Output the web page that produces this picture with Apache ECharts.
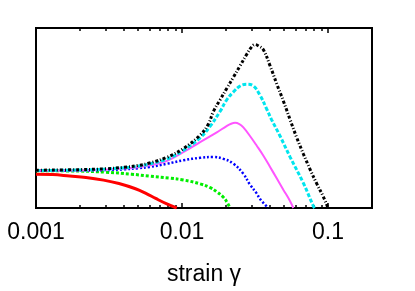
<!DOCTYPE html>
<html>
<head>
<meta charset="utf-8">
<script src="https://cdn.jsdelivr.net/npm/echarts@6/dist/echarts.min.js"></script>
<style>
html,body{margin:0;padding:0;background:#fff;}
#c{width:415px;height:291px;}
</style>
</head>
<body>
<div id="c"></div>
<script>
// x values (strain) and y values (arbitrary units) per curve
var redX = [0.001, 0.0013, 0.0017, 0.0022, 0.0029, 0.0037, 0.0048, 0.0057, 0.0066, 0.0078, 0.0092];
var redY = [0.188, 0.186, 0.178, 0.17, 0.155, 0.136, 0.107, 0.08, 0.053, 0.024, 0.0];

var greenX = [0.001, 0.002, 0.003, 0.0045, 0.006, 0.0082, 0.0102, 0.0133, 0.0156, 0.0173, 0.0192, 0.0204, 0.0213];
var greenY = [0.207, 0.205, 0.199, 0.188, 0.177, 0.166, 0.156, 0.134, 0.113, 0.09, 0.06, 0.03, 0.0];

var blueX = [0.001, 0.002, 0.003, 0.004, 0.005, 0.006, 0.0079, 0.0102, 0.0133, 0.0164, 0.0192, 0.0225, 0.0263, 0.0292, 0.0325, 0.0342, 0.039];
var blueY = [0.207, 0.208, 0.211, 0.215, 0.221, 0.228, 0.246, 0.265, 0.279, 0.283, 0.273, 0.246, 0.19, 0.13, 0.08, 0.05, 0.0];

var magentaX = [0.001, 0.002, 0.003, 0.004, 0.005, 0.006, 0.0079, 0.0102, 0.0133, 0.0173, 0.0202, 0.0217, 0.0231, 0.0247, 0.0263, 0.0292, 0.0325, 0.036, 0.0401, 0.0445, 0.0494, 0.055, 0.0578];
var magentaY = [0.207, 0.209, 0.213, 0.219, 0.227, 0.237, 0.262, 0.31, 0.366, 0.42, 0.455, 0.468, 0.473, 0.466, 0.448, 0.40, 0.346, 0.292, 0.228, 0.165, 0.102, 0.038, 0.0];

var cyanX = [0.001, 0.002, 0.003, 0.004, 0.005, 0.006, 0.0079, 0.0102, 0.0133, 0.0156, 0.0182, 0.0202, 0.0225, 0.025, 0.0277, 0.0308, 0.0342, 0.038, 0.0411, 0.0469, 0.055, 0.0678, 0.0793, 0.081];
var cyanY = [0.208, 0.211, 0.216, 0.223, 0.232, 0.245, 0.272, 0.32, 0.39, 0.455, 0.536, 0.60, 0.645, 0.678, 0.687, 0.678, 0.627, 0.55, 0.49, 0.40, 0.283, 0.138, 0.011, 0.0];

var blackX = [0.001, 0.002, 0.003, 0.004, 0.005, 0.006, 0.0079, 0.0102, 0.0133, 0.0151, 0.0164, 0.0182, 0.0202, 0.0225, 0.025, 0.0277, 0.0300, 0.0316, 0.0335, 0.036, 0.0401, 0.0445, 0.0494, 0.055, 0.0611, 0.0678, 0.0753, 0.0837, 0.0929, 0.1];
var blackY = [0.21, 0.213, 0.218, 0.226, 0.236, 0.25, 0.282, 0.33, 0.405, 0.464, 0.536, 0.60, 0.663, 0.727, 0.79, 0.853, 0.895, 0.908, 0.90, 0.88, 0.79, 0.69, 0.595, 0.49, 0.39, 0.30, 0.215, 0.135, 0.062, 0.0];

var majorTicks = [0.001, 0.01, 0.1];
var tickLabels = ['0.001', '0.01', '0.1'];
var minorTicks = [0.002, 0.003, 0.004, 0.005, 0.006, 0.007, 0.008, 0.009,
                  0.02, 0.03, 0.04, 0.05, 0.06, 0.07, 0.08, 0.09, 0.2];

function pairs(xs, ys) {
  return xs.map(function (x, i) { return [x, ys[i]]; });
}

var baseAxis = {
  type: 'log', min: 0.001, max: 0.2, logBase: 10,
  axisLine: {show: false}, splitLine: {show: false}, minorSplitLine: {show: false}
};

function mkAxis(pos, ticks, len, labels) {
  var a = Object.assign({}, baseAxis);
  a.position = pos;
  a.axisTick = {show: true, inside: true, length: len, customValues: ticks,
                lineStyle: {color: '#000', width: 1.5}};
  if (labels) {
    a.axisLabel = {show: true, customValues: majorTicks, fontSize: 23, color: '#000',
                   fontFamily: 'Liberation Sans, Arial, sans-serif', margin: 13,
                   formatter: function (v) {
                     var i = -1;
                     for (var k = 0; k < majorTicks.length; k++) {
                       if (Math.abs(majorTicks[k] - v) / majorTicks[k] < 1e-6) i = k;
                     }
                     return i >= 0 ? tickLabels[i] : '';
                   }};
    a.name = 'strain γ';
    a.nameLocation = 'middle';
    a.nameGap = 55;
    a.nameTextStyle = {fontSize: 23, color: '#000', fontFamily: 'Liberation Sans, Arial, sans-serif'};
  } else {
    a.axisLabel = {show: false};
  }
  return a;
}

function line(xs, ys, color, width, dash, z) {
  return {type: 'line', data: pairs(xs, ys), smooth: 0.4,
          showSymbol: false, clip: true, z: z,
          lineStyle: {color: color, width: width, type: dash || 'solid'}};
}

var chart = echarts.init(document.getElementById('c'), null, {renderer: 'canvas'});
chart.setOption({
  animation: false,
  backgroundColor: '#fff',
  grid: {left: 36, right: 43, top: 28, bottom: 79, show: true,
         borderColor: '#000', borderWidth: 2, backgroundColor: 'transparent'},
  xAxis: [
    mkAxis('bottom', majorTicks, 5, true),
    mkAxis('bottom', minorTicks, 3, false),
    mkAxis('top', majorTicks, 5, false),
    mkAxis('top', minorTicks, 3, false)
  ],
  yAxis: {type: 'value', min: 0, max: 1,
          axisLine: {show: false}, axisTick: {show: false},
          axisLabel: {show: false}, splitLine: {show: false}},
  series: [
    line(blackX, blackY, '#000', 3, [3, 2, 1, 2], 6),
    line(cyanX, cyanY, '#00e5ee', 3, [4, 2], 5),
    line(magentaX, magentaY, '#ff55ff', 2, null, 4),
    line(blueX, blueY, '#0000ff', 2.5, [2, 2], 3),
    line(greenX, greenY, '#00ee00', 3, [3, 2], 2),
    line(redX, redY, '#ff0000', 3, null, 1)
  ]
});
</script>
</body>
</html>
